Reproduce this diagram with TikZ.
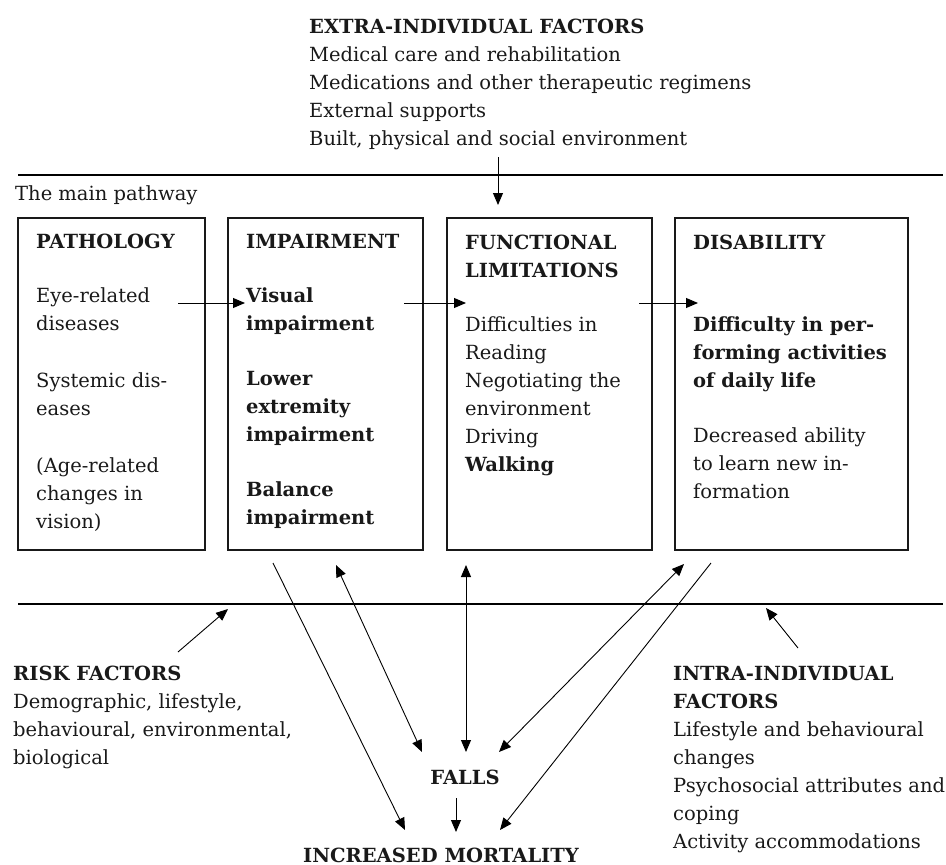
\documentclass[tikz,border=0pt]{standalone}
\usepackage{fontspec}
\setmainfont{DejaVu Serif}
\usetikzlibrary{arrows.meta}

\begin{document}
\begin{tikzpicture}[x=1pt, y=-1pt,
  txt/.style={anchor=base west, align=left, inner sep=0pt,
    font=\fontsize{19.5}{28}\selectfont, text=black!90},
  ctr/.style={anchor=base, inner sep=0pt,
    font=\fontsize{19.5}{28}\selectfont\bfseries, text=black!90},
  stage/.style={draw=black!90, line width=1.1pt},
  rule/.style={draw=black, line width=1.2pt},
  arr/.style={line width=0.9pt, -{Triangle[length=12pt,width=10pt]}},
  darr/.style={line width=0.9pt, {Triangle[length=12pt,width=10pt]}-{Triangle[length=12pt,width=10pt]}}]
\useasboundingbox (0,0) rectangle (946,865);

% Extra-individual factors (base = last line)
\node[txt] (extra) at (309,145) {\textbf{EXTRA-INDIVIDUAL FACTORS}\\Medical care and rehabilitation\\Medications and other therapeutic regimens\\External supports\\Built, physical and social environment};

% Rules
\coordinate (topL) at (18,175);
\coordinate (topR) at (943,175);
\coordinate (lowL) at (18,604);
\coordinate (lowR) at (943,604);
\draw[rule] (topL) -- (topR);
\draw[rule] (lowL) -- (lowR);
\node[txt] (main) at (15,200) {The main pathway};

% Stages
\draw[stage] (18,218) rectangle (205,550);
\draw[stage] (228,218) rectangle (423,550);
\draw[stage] (447,218) rectangle (652,550);
\draw[stage] (675,218) rectangle (908,550);

\node[txt] (patho) at (36,528) {\textbf{PATHOLOGY}\\[26pt]Eye-related\\diseases\\[29pt]Systemic dis-\\eases\\[29pt](Age-related\\changes in\\vision)};
\node[txt] (impair) at (246,524) {\textbf{IMPAIRMENT}\\[26pt]\textbf{Visual}\\\textbf{impairment}\\[27pt]\textbf{Lower}\\\textbf{extremity}\\\textbf{impairment}\\[27pt]\textbf{Balance}\\\textbf{impairment}};
\node[txt] (func) at (465,471) {\textbf{FUNCTIONAL}\\\textbf{LIMITATIONS}\\[26pt]Difficulties in\\Reading\\Negotiating the\\environment\\Driving\\\textbf{Walking}};
\node[txt] (disab) at (693,498) {\textbf{DISABILITY}\\[54pt]\textbf{Difficulty in per-}\\\textbf{forming activities}\\\textbf{of daily life}\\[27pt]Decreased ability\\to learn new in-\\formation};

% Main pathway arrows
\coordinate (extraS) at (498,157);
\coordinate (extraE) at (498,205);
\draw[arr] (extraS) -- (extraE);
\coordinate (pi1) at (178,303);
\coordinate (pi2) at (245,303);
\coordinate (if1) at (404,303);
\coordinate (if2) at (466,303);
\coordinate (fd1) at (639,303);
\coordinate (fd2) at (698,303);
\draw[arr] (pi1) -- (pi2);
\draw[arr] (if1) -- (if2);
\draw[arr] (fd1) -- (fd2);

% Side factors
\node[txt] (risk) at (13,764) {\textbf{RISK FACTORS}\\Demographic, lifestyle,\\behavioural, environmental,\\biological};
\node[txt] (intra) at (673,848) {\textbf{INTRA-INDIVIDUAL}\\\textbf{FACTORS}\\Lifestyle and behavioural\\changes\\Psychosocial attributes and\\coping\\Activity accommodations};
\coordinate (riskS) at (178,652);
\coordinate (riskE) at (228,609);
\coordinate (intraS) at (798,648);
\coordinate (intraE) at (766,608);
\draw[arr] (riskS) -- (riskE);
\draw[arr] (intraS) -- (intraE);

% Outcomes
\node[ctr] (falls) at (465,784) {FALLS};
\node[ctr] (mort) at (441,862) {INCREASED MORTALITY};

\coordinate (impA) at (273,563);
\coordinate (mortA) at (405,830);
\coordinate (impB) at (336,565);
\coordinate (fallB) at (422,752);
\coordinate (funC) at (466,565);
\coordinate (fallC) at (466,752);
\coordinate (disD) at (684,564);
\coordinate (fallD) at (499,752);
\coordinate (disE) at (711,563);
\coordinate (mortE) at (500,830);
\coordinate (fallF) at (456,798);
\coordinate (mortF) at (456,832);
\draw[arr] (impA) -- (mortA);
\draw[darr] (impB) -- (fallB);
\draw[darr] (funC) -- (fallC);
\draw[darr] (disD) -- (fallD);
\draw[arr] (disE) -- (mortE);
\draw[arr] (fallF) -- (mortF);
\end{tikzpicture}
\end{document}
